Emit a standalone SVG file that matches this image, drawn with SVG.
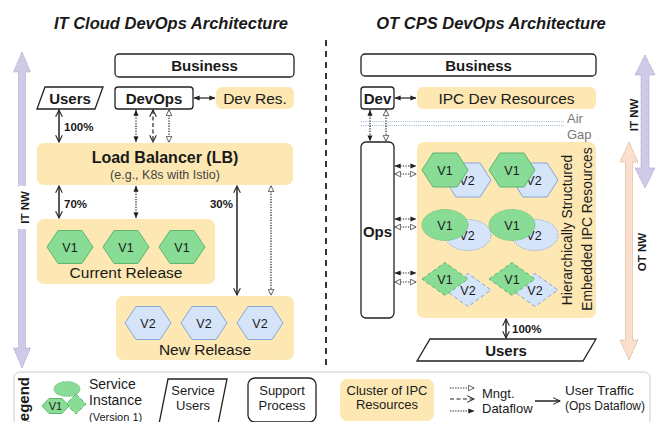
<svg xmlns="http://www.w3.org/2000/svg" width="658" height="422" viewBox="0 0 658 422">
<style>
text{font-family:"Liberation Sans",Arial,sans-serif;fill:#1a1a1a}
.title{font-size:16.5px;font-weight:bold;font-style:italic}
.b15{font-size:15px;font-weight:bold}
.r15{font-size:15.5px}
.pct{font-size:11.5px;font-weight:bold}
.box{fill:#fff;stroke:#222;stroke-width:1.3}
.clu{fill:#fde8b3}
.v1{fill:#88dc95;stroke:#5fb56e;stroke-width:1}
.v2{fill:#d5e4f8;stroke:#85a6d8;stroke-width:1}
.dot{stroke-dasharray:1.3 1.3}
.dsh{stroke-dasharray:4 2.5}
.vt{font-size:12.5px;text-anchor:middle}
.c{text-anchor:middle}
.ln{stroke:#222;stroke-width:1.2;fill:none}
.lns{stroke:#222;stroke-width:1.5;fill:none}
.lg{font-size:13px}
</style>
<defs>
<marker id="mf" viewBox="0 0 8 8" refX="7.5" refY="4" markerWidth="6" markerHeight="6" markerUnits="userSpaceOnUse" orient="auto-start-reverse"><path d="M0,0.6 L8,4 L0,7.4 Z" fill="#222"/></marker>
<marker id="mh" viewBox="0 0 9 9" refX="8" refY="4.5" markerWidth="7" markerHeight="7" markerUnits="userSpaceOnUse" orient="auto-start-reverse"><path d="M0.7,0.8 L8.2,4.5 L0.7,8.2 Z" fill="#fff" stroke="#333" stroke-width="1"/></marker>
<marker id="mv" viewBox="0 0 10 10" refX="9" refY="5" markerWidth="8" markerHeight="8" markerUnits="userSpaceOnUse" orient="auto-start-reverse"><path d="M0.5,0.8 L9,5 L0.5,9.2" fill="none" stroke="#222" stroke-width="1.3"/></marker>
<polygon id="hexA" points="-23,0 -12,-16.5 12,-16.5 23,0 12,16.5 -12,16.5"/>
<polygon id="hexB" points="-23,0 -12,-17 12,-17 23,0 12,17 -12,17"/>
<ellipse id="ell" cx="0" cy="0" rx="23" ry="15.5"/>
<polygon id="dia" points="-23,0 0,-16.5 23,0 0,16.5"/>
</defs>
<rect width="658" height="422" fill="#fff"/>

<g id="titles">
<text class="title c" x="171" y="29">IT Cloud DevOps Architecture</text>
<text class="title c" x="491" y="29">OT CPS DevOps Architecture</text>
<line x1="326" y1="40" x2="326" y2="366" stroke="#222" stroke-width="1.8" stroke-dasharray="6 5"/>
</g>

<g id="it-nw-left">
<path d="M22,52 L30.5,72 L25.5,72 L25.5,348 L30.5,348 L22,368 L13.5,348 L18.5,348 L18.5,72 L13.5,72 Z" fill="#cfcbe7" stroke="#a6a1cd" stroke-width="1" stroke-dasharray="1 1"/>
<rect x="13" y="186" width="18" height="43" fill="#fff"/>
<text class="pct c" transform="translate(29,207.5) rotate(-90)">IT NW</text>
</g>

<g id="it-business">
<rect class="box" x="115" y="54" width="179" height="23" rx="4"/>
<text class="b15 c" x="204.5" y="71">Business</text>
</g>
<g id="it-users">
<polygon class="box" points="45,87 103,87 95,109 37,109"/>
<text class="b15 c" x="70" y="104">Users</text>
</g>
<g id="it-devops">
<rect class="box" x="115" y="87" width="78" height="22" rx="3"/>
<text class="b15 c" x="154" y="104">DevOps</text>
</g>
<g id="it-devres">
<rect class="clu" x="216" y="87" width="78" height="22" rx="6"/>
<text class="r15 c" x="255" y="104">Dev Res.</text>
</g>
<g id="it-lb">
<rect class="clu" x="37" y="143" width="256" height="42" rx="7"/>
<text class="c" x="165" y="163" style="font-size:16px;font-weight:bold">Load Balancer (LB)</text>
<text class="c" x="165" y="179" style="font-size:12.5px;fill:#444">(e.g., K8s with Istio)</text>
</g>
<g id="it-current">
<rect class="clu" x="37" y="219" width="178" height="65" rx="7"/>
<use href="#hexA" x="70" y="247" class="v1"/>
<use href="#hexA" x="126" y="247" class="v1"/>
<use href="#hexA" x="182" y="247" class="v1"/>
<text class="vt" x="70" y="251.5">V1</text>
<text class="vt" x="126" y="251.5">V1</text>
<text class="vt" x="182" y="251.5">V1</text>
<text class="r15 c" x="126" y="277.5">Current Release</text>
</g>
<g id="it-new">
<rect class="clu" x="116" y="296" width="178" height="64" rx="7"/>
<use href="#hexA" x="148" y="323" class="v2"/>
<use href="#hexA" x="204" y="323" class="v2"/>
<use href="#hexA" x="260" y="323" class="v2"/>
<text class="vt" x="148" y="327.5">V2</text>
<text class="vt" x="204" y="327.5">V2</text>
<text class="vt" x="260" y="327.5">V2</text>
<text class="r15 c" x="205" y="355">New Release</text>
</g>

<g id="ot-business">
<rect class="box" x="361" y="54" width="235" height="22" rx="4"/>
<text class="b15 c" x="478.5" y="71">Business</text>
</g>
<g id="ot-dev">
<rect class="box" x="361" y="87" width="33" height="22" rx="3"/>
<text class="b15 c" x="377.5" y="104">Dev</text>
</g>
<g id="ot-ipcdev">
<rect class="clu" x="417" y="87" width="179" height="22" rx="6"/>
<text class="r15 c" x="506.5" y="104">IPC Dev Resources</text>
</g>
<g id="air-gap">
<line x1="361" y1="121.5" x2="564" y2="121.5" stroke="#9bb5da" stroke-width="1" stroke-dasharray="1 1.2"/>
<line x1="361" y1="125.5" x2="564" y2="125.5" stroke="#9bb5da" stroke-width="1" stroke-dasharray="1 1.2"/>
<text x="567" y="122.5" style="font-size:13px;fill:#777">Air</text>
<text x="567" y="138.5" style="font-size:13px;fill:#777">Gap</text>
</g>
<g id="ot-ops">
<rect class="box" x="361" y="142" width="33" height="176" rx="5"/>
<text class="b15 c" x="377.5" y="237">Ops</text>
</g>
<g id="ot-ipc-cluster">
<rect class="clu" x="417" y="142" width="179" height="176" rx="7"/>
<use href="#hexB" x="468" y="180" class="v2"/>
<text class="vt" x="467" y="185">V2</text>
<use href="#hexB" x="445" y="170" class="v1"/>
<text class="vt" x="445" y="175">V1</text>
<use href="#hexB" x="535" y="180" class="v2"/>
<text class="vt" x="534" y="185">V2</text>
<use href="#hexB" x="512" y="170" class="v1"/>
<text class="vt" x="512" y="175">V1</text>

<use href="#ell" x="468" y="235" class="v2 dot"/>
<text class="vt" x="467" y="240">V2</text>
<use href="#ell" x="445" y="225" class="v1 dot"/>
<text class="vt" x="445" y="230">V1</text>
<use href="#ell" x="535" y="235" class="v2 dot"/>
<text class="vt" x="534" y="240">V2</text>
<use href="#ell" x="512" y="225" class="v1 dot"/>
<text class="vt" x="512" y="230">V1</text>

<use href="#dia" x="468" y="290" class="v2 dsh"/>
<text class="vt" x="468" y="295">V2</text>
<use href="#dia" x="445" y="279" class="v1 dsh"/>
<text class="vt" x="445" y="284">V1</text>
<use href="#dia" x="535" y="290" class="v2 dsh"/>
<text class="vt" x="535" y="295">V2</text>
<use href="#dia" x="512" y="279" class="v1 dsh"/>
<text class="vt" x="512" y="284">V1</text>

<text class="c" transform="translate(572,230) rotate(-90)" style="font-size:13.8px">Hierarchically Structured</text>
<text class="c" transform="translate(591.5,229) rotate(-90)" style="font-size:13.8px">Embedded IPC Resources</text>
</g>
<g id="ot-users">
<polygon class="box" points="430,339 596,339 583,361 417,361"/>
<text class="b15 c" x="506" y="356">Users</text>
</g>

<g id="it-nw-right">
<path d="M645,55 L655,75 L649,75 L649,168 L655,168 L645,188 L635,168 L641,168 L641,75 L635,75 Z" fill="#cfcbe7" stroke="#a6a1cd" stroke-width="1" stroke-dasharray="1 1"/>
<text class="pct c" transform="translate(638,115) rotate(-90)">IT NW</text>
</g>
<g id="ot-nw">
<path d="M629,142 L638,162 L632.5,162 L632.5,340 L638,340 L629,360 L620,340 L625.5,340 L625.5,162 L620,162 Z" fill="#fae0cc" stroke="#d2ab8b" stroke-width="1" stroke-dasharray="1 1"/>
<text class="pct c" transform="translate(646,252) rotate(-90)">OT NW</text>
</g>

<g id="connectors">
<line class="ln" x1="194" y1="98" x2="215" y2="98" marker-start="url(#mf)" marker-end="url(#mf)"/>
<line class="lns" x1="59" y1="110" x2="59" y2="142" marker-start="url(#mv)" marker-end="url(#mv)"/>
<line class="ln dot" x1="136" y1="110" x2="136" y2="142" marker-start="url(#mf)" marker-end="url(#mf)"/>
<line class="ln dsh" x1="153" y1="110" x2="153" y2="142" marker-start="url(#mv)" marker-end="url(#mv)"/>
<line class="ln dot" x1="169" y1="110" x2="169" y2="142" marker-start="url(#mh)" marker-end="url(#mh)"/>
<line class="lns" x1="59" y1="186" x2="59" y2="218" marker-start="url(#mv)" marker-end="url(#mv)"/>
<line class="ln dot" x1="136" y1="186" x2="136" y2="218" marker-start="url(#mf)" marker-end="url(#mf)"/>
<line class="lns" x1="237" y1="186" x2="237" y2="295" marker-start="url(#mv)" marker-end="url(#mv)"/>
<line class="ln dot" x1="271" y1="186" x2="271" y2="295" marker-start="url(#mh)" marker-end="url(#mh)"/>
<line class="ln" x1="395" y1="98" x2="416" y2="98" marker-start="url(#mf)" marker-end="url(#mf)"/>
<line class="ln dot" x1="370" y1="110" x2="370" y2="141" marker-start="url(#mf)" marker-end="url(#mf)"/>
<line class="ln dot" x1="386" y1="110" x2="386" y2="141" marker-start="url(#mh)" marker-end="url(#mh)"/>
<line class="ln dot" x1="395" y1="166" x2="416" y2="166" marker-start="url(#mf)" marker-end="url(#mf)"/>
<line class="ln dot" x1="395" y1="174" x2="416" y2="174" marker-start="url(#mh)" marker-end="url(#mh)"/>
<line class="ln dot" x1="395" y1="219" x2="416" y2="219" marker-start="url(#mf)" marker-end="url(#mf)"/>
<line class="ln dot" x1="395" y1="227" x2="416" y2="227" marker-start="url(#mh)" marker-end="url(#mh)"/>
<line class="ln dot" x1="395" y1="273" x2="416" y2="273" marker-start="url(#mf)" marker-end="url(#mf)"/>
<line class="ln dot" x1="395" y1="282" x2="416" y2="282" marker-start="url(#mh)" marker-end="url(#mh)"/>
<line class="lns" x1="506" y1="319" x2="506" y2="338" marker-start="url(#mv)" marker-end="url(#mv)"/>
<text class="pct" x="64" y="131">100%</text>
<text class="pct" x="64" y="208">70%</text>
<text class="pct" x="233" y="208" text-anchor="end">30%</text>
<text class="pct" x="512" y="333">100%</text>
</g>

<g id="legend">
<rect x="14" y="372" width="636" height="60" rx="6" fill="none" stroke="#ccc" stroke-width="1"/>
<text transform="translate(28.5,377) rotate(-90)" text-anchor="end" style="font-size:15px;font-weight:bold">Legend</text>
<ellipse cx="67" cy="389" rx="13" ry="7.5" class="v1 dot"/>
<polygon points="76,394 86,404 76,414 66,404" class="v1 dsh"/>
<polygon points="42,406 49,398.5 62,398.5 69,406 62,413.5 49,413.5" class="v1"/>
<text class="c" x="55.5" y="410" style="font-size:11px">V1</text>
<text x="89" y="389" style="font-size:14px">Service</text>
<text x="89" y="405" style="font-size:14px">Instance</text>
<text x="89" y="421" style="font-size:11px">(Version 1)</text>
<polygon class="box" points="168,379 227,379 218,424 159,424"/>
<text class="lg c" x="193" y="395">Service</text>
<text class="lg c" x="193" y="410">Users</text>
<rect class="box" x="248" y="378" width="68" height="44" rx="7"/>
<text class="lg c" x="282" y="395">Support</text>
<text class="lg c" x="282" y="410">Process</text>
<rect class="clu" x="340" y="379" width="94" height="42" rx="7"/>
<text class="lg c" x="387" y="395">Cluster of IPC</text>
<text class="lg c" x="387" y="409">Resources</text>
<line class="ln dot" x1="450" y1="388" x2="474" y2="388" marker-end="url(#mh)"/>
<line class="ln dsh" x1="450" y1="399" x2="474" y2="399" marker-end="url(#mv)"/>
<line class="ln dot" x1="450" y1="411" x2="474" y2="411" marker-end="url(#mf)"/>
<text class="lg" x="482" y="398">Mngt.</text>
<text class="lg" x="482" y="413">Dataflow</text>
<line class="lns" x1="535" y1="401" x2="560" y2="401" marker-end="url(#mv)"/>
<text x="565" y="395" style="font-size:13.5px">User Traffic</text>
<text x="565" y="410" style="font-size:12px">(Ops Dataflow)</text>
</g>
</svg>
